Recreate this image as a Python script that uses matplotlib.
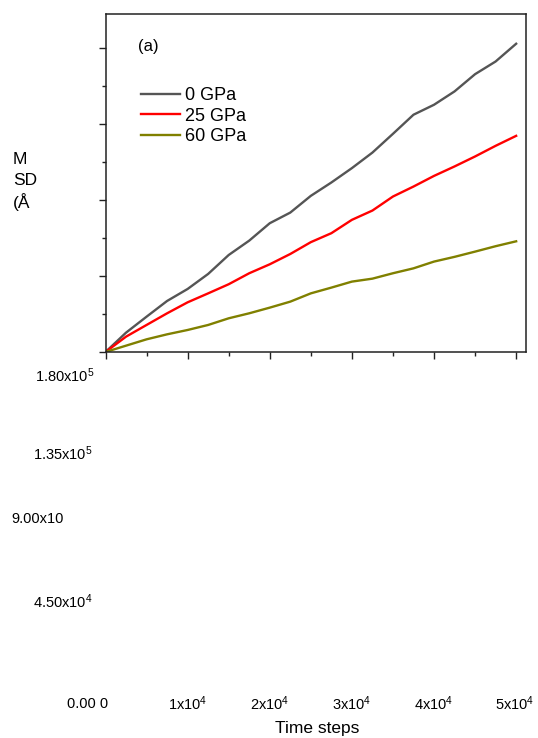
import matplotlib
matplotlib.use("Agg")
import matplotlib.pyplot as plt
from matplotlib.ticker import MultipleLocator

plt.rcParams['font.family'] = ['Liberation Sans', 'DejaVu Sans']
plt.rcParams['mathtext.fontset'] = 'custom'
plt.rcParams['mathtext.rm'] = 'Liberation Sans'
plt.rcParams['mathtext.it'] = 'Liberation Sans'

# Data
time_steps = [0, 2500, 5000, 7500, 10000, 12500, 15000, 17500, 20000, 22500, 25000,
              27500, 30000, 32500, 35000, 37500, 40000, 42500, 45000, 47500, 50000]
msd_0gpa = [0, 11450, 20900, 30200, 37300, 46200, 57400, 65900, 76200, 82500, 92400,
            100300, 108800, 118000, 129100, 140400, 146300, 154200, 164400, 171900, 182400]
msd_25gpa = [0, 9080, 16000, 22900, 29400, 34700, 40100, 46600, 51900, 58000, 65000,
             70300, 78200, 83700, 92000, 97900, 104200, 109800, 115700, 122000, 127900]
msd_60gpa = [0, 3750, 7500, 10460, 13030, 16000, 19940, 22900, 26250, 29800, 34700,
             38100, 41650, 43400, 46600, 49500, 53500, 56300, 59400, 62600, 65500]
series_labels = ['0 GPa', '25 GPa', '60 GPa']
series_colors = ['#555555', '#ff0000', '#808000']

y_tick_labels = ['1.80x10$^5$', '1.35x10$^5$', '9.00x10', '4.50x10$^4$']
x_tick_labels = ['0.00 0', '1x10$^4$', '2x10$^4$', '3x10$^4$', '4x10$^4$', '5x10$^4$']
x_label = 'Time steps'
y_label_lines = ['M', 'SD', '(Å']
panel_label = '(a)'

W, H = 538, 738
fig = plt.figure(figsize=(W / 100, H / 100), dpi=100)
ax = fig.add_axes([105.5 / W, 1 - 352 / H, (526 - 105.5) / W, (352 - 14) / H])

for ys, lab, c in zip([msd_0gpa, msd_25gpa, msd_60gpa], series_labels, series_colors):
    ax.plot(time_steps, ys, color=c, lw=1.7, label=lab)

ax.set_xlim(0, 51200)
ax.set_ylim(0, 200000)
ax.xaxis.set_major_locator(MultipleLocator(10000))
ax.xaxis.set_minor_locator(MultipleLocator(5000))
ax.yaxis.set_major_locator(MultipleLocator(45000))
ax.yaxis.set_minor_locator(MultipleLocator(22500))
ax.tick_params(which='major', direction='out', length=5, width=1, colors='#222222',
               labelbottom=False, labelleft=False)
ax.tick_params(which='minor', direction='out', length=3, width=1, colors='#222222')
for s in ax.spines.values():
    s.set_linewidth(1.1)
    s.set_color('#222222')

fig.text(138 / W, 1 - 47 / H, panel_label, fontsize=12, va='center', ha='left')

leg = ax.legend(loc='upper left', bbox_to_anchor=(141 / W, 1 - 87 / H),
                bbox_transform=fig.transFigure, frameon=False, fontsize=13,
                handlelength=2.15, handletextpad=0.3, labelspacing=0.2,
                borderaxespad=0, borderpad=0)

# Displaced tick labels as in the original
y_label_pos = [(95, 376, 'right'), (93, 454, 'right'), (11, 519, 'left'), (93, 602, 'right')]
for lab, (x, y, ha) in zip(y_tick_labels, y_label_pos):
    fig.text(x / W, 1 - y / H, lab, fontsize=10.5, ha=ha, va='center')

x_label_pos = [88, 188, 270, 352, 434, 515]
for lab, x in zip(x_tick_labels, x_label_pos):
    fig.text(x / W, 1 - 704 / H, lab, fontsize=10.5, ha='center', va='center')

fig.text(317 / W, 1 - 729 / H, x_label, fontsize=12.5, ha='center', va='center')

for i, line in enumerate(y_label_lines):
    fig.text(13 / W, 1 - (159 + i * 21.5) / H, line, fontsize=12.5, ha='left', va='center')

fig.savefig('out.png', dpi=100)
